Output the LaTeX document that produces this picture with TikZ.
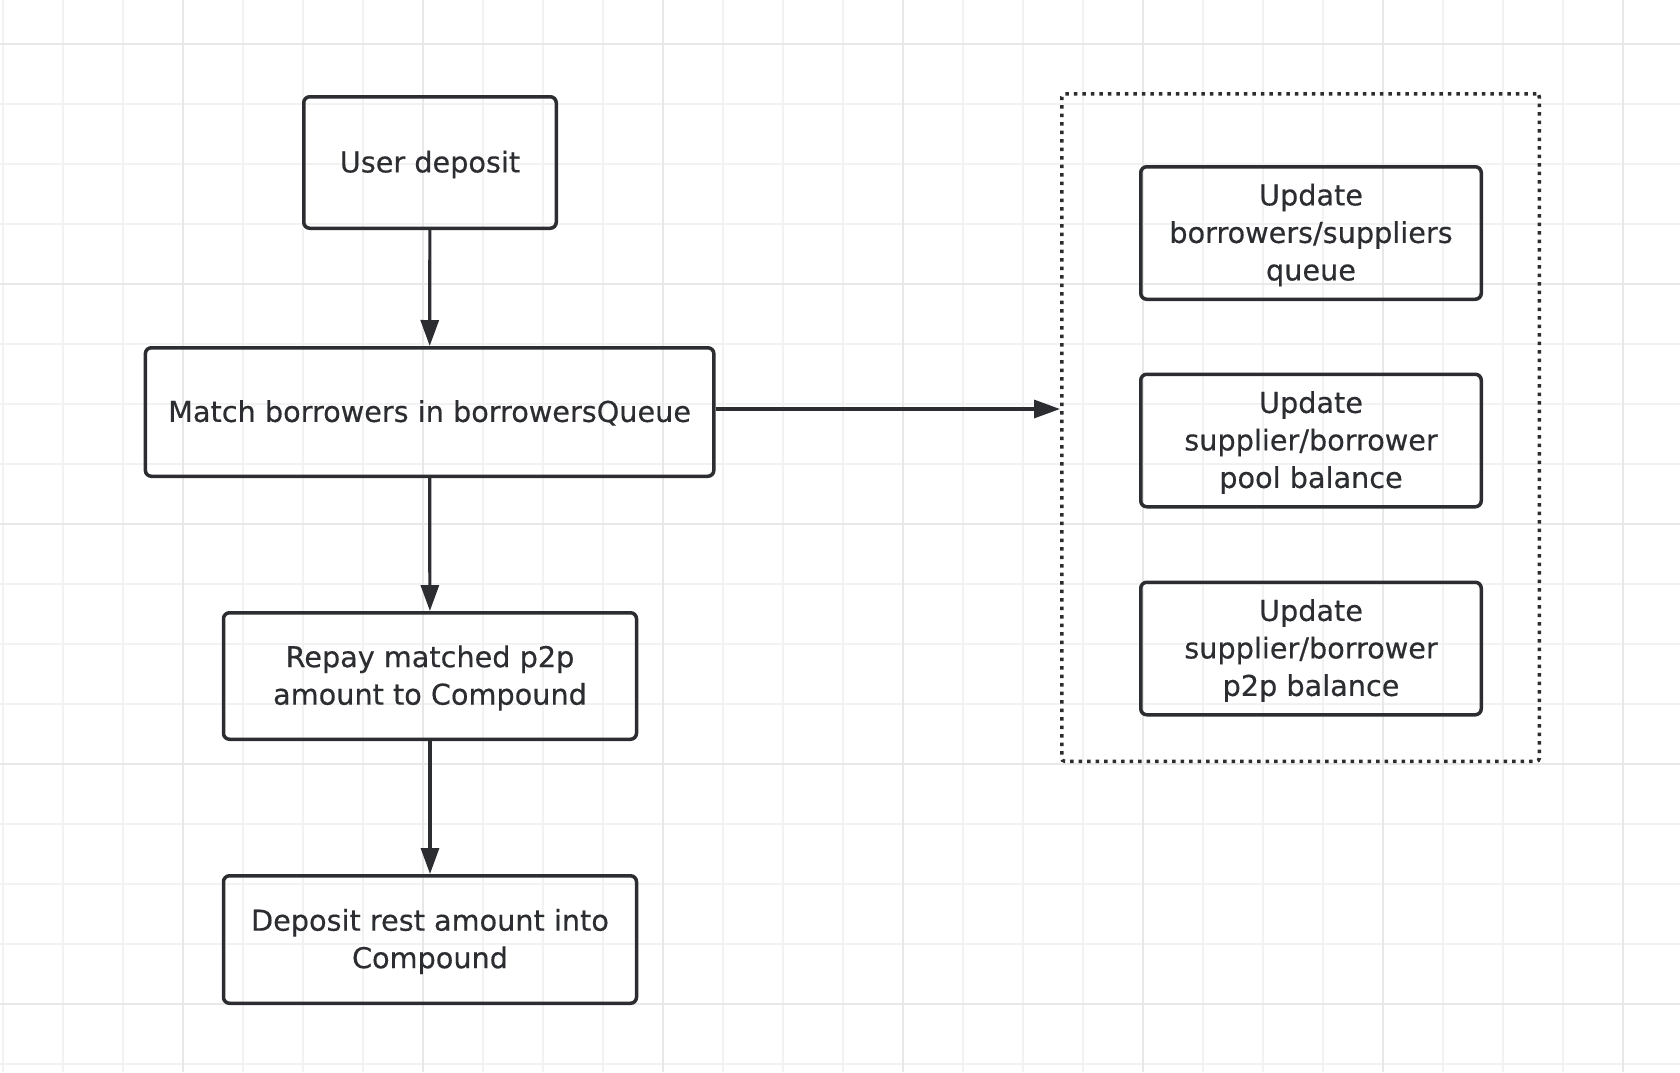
\documentclass[tikz,border=0pt]{standalone}
\usepackage{fontspec}
\setmainfont[FakeBold=0.4]{DejaVu Sans}
\usetikzlibrary{arrows.meta}
\definecolor{ink}{HTML}{2B2D30}
\definecolor{gridminor}{HTML}{F2F2F2}
\definecolor{gridmajor}{HTML}{E8E8E8}
\begin{document}
\begin{tikzpicture}[x=1pt,y=-1pt,
  box/.style={draw=ink,line width=3.5pt,rounded corners=6pt,align=center,text=ink,
    font=\fontsize{28.7}{37.5}\selectfont,inner sep=0pt,text depth=2pt},
  group/.style={draw=ink,line width=3.5pt,rounded corners=3pt,dash pattern=on 3.5pt off 5pt,inner sep=0pt},
  link/.style={draw=ink,line width=3.2pt,-{Triangle[length=26pt,width=18pt]}}]
\useasboundingbox (0,0) rectangle (1680,1072);
\fill[white] (0,0) rectangle (1680,1072);
\foreach \x in {3,63,...,1683} \draw[gridminor,line width=2pt] (\x,0) -- (\x,1072);
\foreach \y in {44,104,...,1072} \draw[gridminor,line width=2pt] (0,\y) -- (1680,\y);
\foreach \x in {183,423,...,1683} \draw[gridmajor,line width=2pt] (\x,0) -- (\x,1072);
\foreach \y in {44,284,...,1072} \draw[gridmajor,line width=2pt] (0,\y) -- (1680,\y);

\node[box,minimum width=252.5,minimum height=131.5] at (430,162.5) (s1) {User deposit};
\node[box,minimum width=568.5,minimum height=128.5] at (429.6,412) (s2) {Match borrowers in borrowersQueue};
\node[box,minimum width=413,minimum height=126.5] at (430,676) (s3) {Repay matched p2p\\amount to Compound};
\node[box,minimum width=413,minimum height=127.5] at (430,939.5) (s4) {Deposit rest amount into\\Compound};

\node[group,minimum width=477.5,minimum height=667.5] at (1300.5,427.5) (g) {};
\node[box,minimum width=340.5,minimum height=132.5] at (1311,233) (q1) {Update\\borrowers/suppliers\\queue};
\node[box,minimum width=340.5,minimum height=132.5] at (1311,440.5) (q2) {Update\\supplier/borrower\\pool balance};
\node[box,minimum width=340.5,minimum height=132.5] at (1311,648.5) (q3) {Update\\supplier/borrower\\p2p balance};

\draw[link] (s1) -- (s2);
\draw[link] (s2) -- (s3);
\draw[link] (s3) -- (s4);
\draw[link] ([yshift=3pt]s2.east) -- ([yshift=3pt]s2.east -| g.west);
\end{tikzpicture}
\end{document}
